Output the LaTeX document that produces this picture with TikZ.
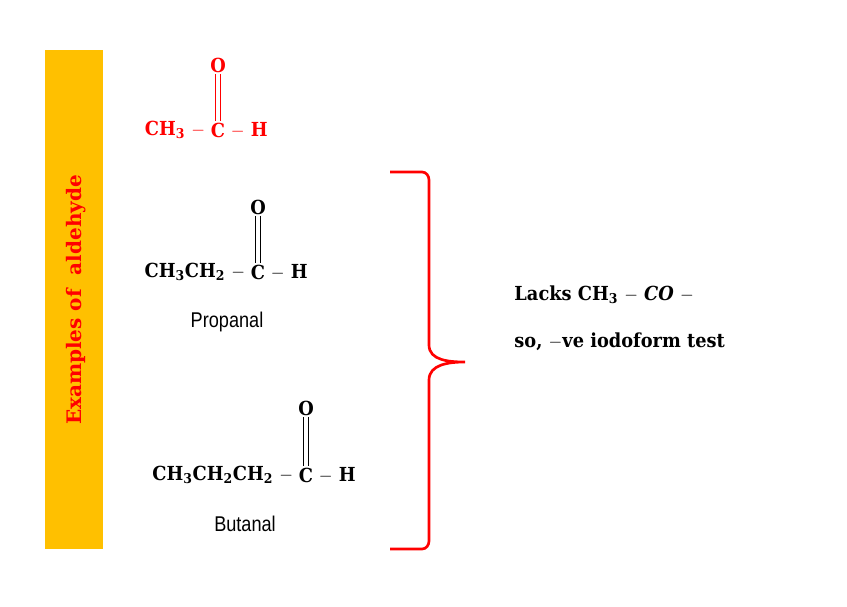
\documentclass[tikz,border=0pt]{standalone}
\usepackage{fontspec}
\setmainfont{DejaVu Serif}
\newfontfamily\narrowf{Liberation Sans}
\newcommand{\sbt}[1]{\textsubscript{#1}}
\begin{document}
\begin{tikzpicture}[x=0.75pt,y=-0.75pt,
  chem/.style={font=\fontsize{14.5}{18}\selectfont\bfseries, inner sep=1pt, xscale=0.92},
  lbl/.style={font=\fontsize{16}{19}\selectfont\narrowf, inner sep=1pt, xscale=0.85},
  bond/.style={line width=0.6pt, double distance=3pt}]
\useasboundingbox (0,0) rectangle (847,607);
\fill[fill={rgb,255:red,255;green,192;blue,0}] (45,50) rectangle (103,549);
\node[rotate=90, text=red, inner sep=1pt, font=\fontsize{15}{18}\selectfont\bfseries] (title) at (76,300) {Examples of\ \ aldehyde};
% acetaldehyde
\node[chem, text=red] (c1) at (218,130) {C};
\node[chem, text=red, anchor=east] (l1) at (c1.west) {CH\sbt{3} $-$\,};
\node[chem, text=red, anchor=west] (r1) at (c1.east) {\,$-$ H};
\node[chem, text=red] (o1) at (218,65) {O};
\draw[bond, draw=red] (o1.south) -- (c1.north);
% propanal
\node[chem] (c2) at (258,272) {C};
\node[chem, anchor=east] (l2) at (c2.west) {CH\sbt{3}CH\sbt{2} $-$\,};
\node[chem, anchor=west] (r2) at (c2.east) {\,$-$ H};
\node[chem] (o2) at (258,207) {O};
\draw[bond] (o2.south) -- (c2.north);
\node[lbl] (n2) at (227,322) {Propanal};
% butanal
\node[chem] (c3) at (306,475) {C};
\node[chem, anchor=east] (l3) at (c3.west) {CH\sbt{3}CH\sbt{2}CH\sbt{2} $-$\,};
\node[chem, anchor=west] (r3) at (c3.east) {\,$-$ H};
\node[chem] (o3) at (306,408) {O};
\draw[bond] (o3.south) -- (c3.north);
\node[lbl] (n3) at (245,524) {Butanal};
% brace
\coordinate (bt) at (390,172);
\coordinate (bb) at (390,549);
\coordinate (tip) at (465,362);
\draw[red, line width=2pt] (bt) -- (422,172) to[out=0,in=90] (429,180) -- (429,345)
  to[out=-90,in=180] (tip) to[out=180,in=90] (429,380) -- (429,541)
  to[out=-90,in=0] (422,549) -- (bb);
\node[chem, anchor=west] (t1) at (513,295) {Lacks CH\sbt{3} $-$ \textit{CO} $-$};
\node[chem, anchor=west] (t2) at (513,342) {so, $-$ve iodoform test};
\end{tikzpicture}
\end{document}
